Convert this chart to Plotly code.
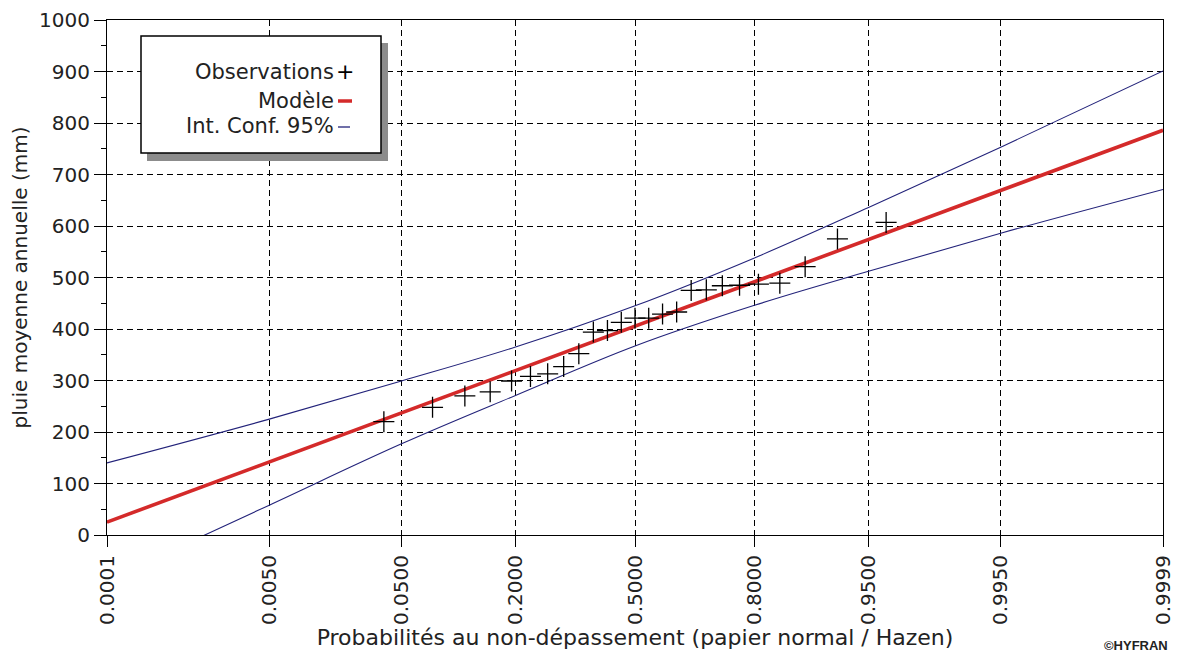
import plotly.graph_objects as go
from statistics import NormalDist

# ---------------- data ----------------
tick_probs = [0.0001, 0.005, 0.05, 0.2, 0.5, 0.8, 0.95, 0.995, 0.9999]
tick_labels = ["0.0001", "0.0050", "0.0500", "0.2000", "0.5000", "0.8000", "0.9500", "0.9950", "0.9999"]

# observations sorted ascending (mm)
obs_values = [220, 248, 270, 278, 299, 308, 313, 327, 352, 394, 397, 413, 421,
              421, 429, 433, 475, 476, 484, 485, 487, 489, 521, 575, 607]

# fitted normal model at the axis ends
model_probs = [0.0001, 0.9999]
model_values = [25, 786]

# 95% confidence limits read at the tick probabilities
ci_probs = tick_probs
ci_upper = [140, 225, 299, 365, 445, 538, 636, 753, 901]
ci_lower = [-88, 58, 177, 271, 367, 446, 512, 586, 671]

# ---------------- helpers ----------------
nd = NormalDist()
def z(p):
    return nd.inv_cdf(p)

n = len(obs_values)
obs_probs = [(i + 1) / (n + 1) for i in range(n)]

OFF = 8  # default page body margin
W, H = 1184 - OFF, 655 - OFF
PL, PR, PT, PB = 107, 1163, 20, 535  # plot area in window pixels
L, R, T, B = PL - OFF, OFF + W - PR, PT - OFF, OFF + H - PB
pw, ph = PR - PL, PB - PT
def px(x):
    return (x - PL) / pw
def py(y):
    return (PB - y) / ph

FONT = "DejaVu Sans"
TXT = "#222222"
RED = "#d42a2a"
NAVY = "#23237a"

fig = go.Figure()

fig.add_trace(go.Scatter(x=[z(p) for p in ci_probs], y=ci_upper, mode="lines",
                         line=dict(color=NAVY, width=1.1, shape="spline"),
                         name="Int. Conf. 95%", showlegend=False))
fig.add_trace(go.Scatter(x=[z(p) for p in ci_probs], y=ci_lower, mode="lines",
                         line=dict(color=NAVY, width=1.1, shape="spline"),
                         showlegend=False))
fig.add_trace(go.Scatter(x=[z(p) for p in model_probs], y=model_values, mode="lines",
                         line=dict(color=RED, width=3.6), name="Modèle", showlegend=False))
fig.add_trace(go.Scatter(x=[z(p) for p in obs_probs], y=obs_values, mode="markers",
                         marker=dict(symbol="cross-thin", size=15,
                                     line=dict(color="black", width=1.3)),
                         name="Observations", showlegend=False))

grid = dict(showgrid=True, gridcolor="black", gridwidth=1, griddash="6px,4px")
fig.update_xaxes(range=[z(0.0001), z(0.9999)], tickmode="array",
                 tickvals=[z(p) for p in tick_probs], ticktext=tick_labels,
                 tickangle=-90, ticks="outside", ticklen=11, tickcolor="black",
                 showline=True, linecolor="black", linewidth=1, mirror=True,
                 zeroline=False,
                 tickfont=dict(family=FONT, size=20, color=TXT),
                 title=dict(text="Probabilités au non-dépassement (papier normal / Hazen)",
                            font=dict(family=FONT, size=22, color=TXT), standoff=1),
                 **grid)
fig.update_yaxes(range=[0, 1000], dtick=100, ticks="outside", ticklen=12, tickcolor="black",
                 minor=dict(ticks="outside", ticklen=5, dtick=50, tickcolor="black", showgrid=False),
                 showline=True, linecolor="black", linewidth=1, mirror=True,
                 zeroline=False,
                 tickfont=dict(family=FONT, size=20, color=TXT),
                 title=dict(text="pluie moyenne annuelle (mm)",
                            font=dict(family=FONT, size=20, color=TXT), standoff=6),
                 **grid)

# legend box (drawn manually, symbols on the right like the original)
shapes = [
    dict(type="rect", xref="paper", yref="paper", x0=px(147), x1=px(388), y0=py(161), y1=py(43),
         fillcolor="#8c8c8c", line=dict(width=0), layer="above"),
    dict(type="rect", xref="paper", yref="paper", x0=px(141), x1=px(381), y0=py(153), y1=py(36),
         fillcolor="white", line=dict(color="black", width=1.5), layer="above"),
    dict(type="line", xref="paper", yref="paper", x0=px(338), x1=px(352), y0=py(101), y1=py(101),
         line=dict(color=RED, width=3.5), layer="above"),
    dict(type="line", xref="paper", yref="paper", x0=px(338), x1=px(350), y0=py(127), y1=py(127),
         line=dict(color=NAVY, width=1.3), layer="above"),
]
annotations = [
    dict(text="Observations", x=px(336), y=py(72), xref="paper", yref="paper",
         xanchor="right", yanchor="middle", showarrow=False,
         font=dict(family=FONT, size=21, color=TXT)),
    dict(text="+", x=px(345), y=py(71), xref="paper", yref="paper",
         xanchor="center", yanchor="middle", showarrow=False,
         font=dict(family=FONT, size=22, color="black")),
    dict(text="Modèle", x=px(336), y=py(101), xref="paper", yref="paper",
         xanchor="right", yanchor="middle", showarrow=False,
         font=dict(family=FONT, size=21, color=TXT)),
    dict(text="Int. Conf. 95%", x=px(336), y=py(126), xref="paper", yref="paper",
         xanchor="right", yanchor="middle", showarrow=False,
         font=dict(family=FONT, size=21, color=TXT)),
    dict(text="<b>©HYFRAN</b>", x=px(1170), y=py(645), xref="paper", yref="paper",
         xanchor="right", yanchor="middle", showarrow=False,
         font=dict(family="Liberation Sans", size=13, color=TXT)),
]

fig.update_layout(width=W, height=H, margin=dict(l=L, r=R, t=T, b=B, autoexpand=False),
                  paper_bgcolor="white", plot_bgcolor="white",
                  shapes=shapes, annotations=annotations, showlegend=False)

fig.write_html("out.html")
